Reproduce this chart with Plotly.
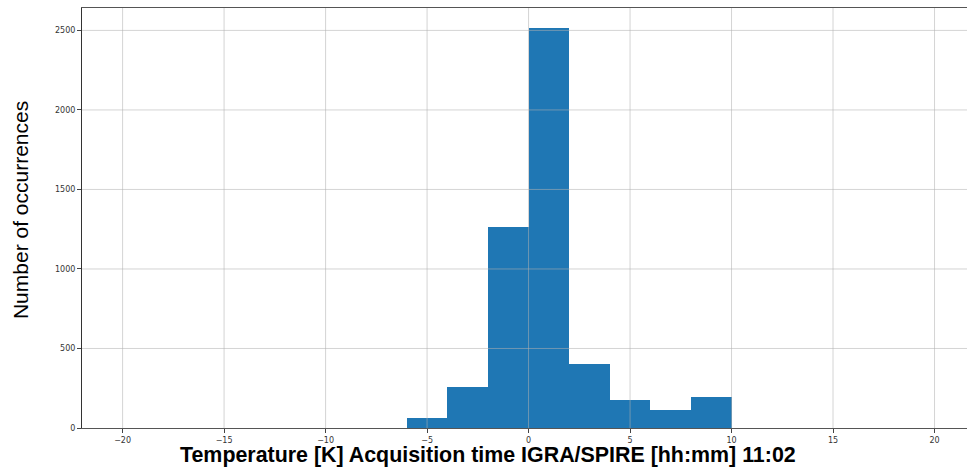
import plotly.graph_objects as go

# Histogram data (bin edges and counts)
bin_edges = [-6, -4, -2, 0, 2, 4, 6, 8, 10]
counts = [60, 257, 1264, 2514, 401, 175, 112, 195]

x_ticks = [-20, -15, -10, -5, 0, 5, 10, 15, 20]
y_ticks = [0, 500, 1000, 1500, 2000, 2500]

x_title = "Temperature [K] Acquisition time IGRA/SPIRE [hh:mm] 11:02"
y_title = "Number of occurrences"

centers = [(a + b) / 2 for a, b in zip(bin_edges[:-1], bin_edges[1:])]
widths = [b - a for a, b in zip(bin_edges[:-1], bin_edges[1:])]

fig = go.Figure()
fig.add_trace(go.Bar(
    x=centers, y=counts, width=widths,
    marker=dict(color="#1f77b4", line=dict(width=0)),
    hoverinfo="x+y",
))

grid_col = "rgba(176,176,176,0.55)"
shapes = []
for t in x_ticks:
    shapes.append(dict(type="line", xref="x", yref="paper", x0=t, x1=t, y0=0, y1=1,
                       line=dict(color=grid_col, width=1), layer="above"))
for t in y_ticks[1:]:
    shapes.append(dict(type="line", xref="paper", yref="y", x0=0, x1=1, y0=t, y1=t,
                       line=dict(color=grid_col, width=1), layer="above"))

tick_font = dict(family="DejaVu Sans", size=8, color="#333333")

fig.update_layout(
    width=967, height=468,
    margin=dict(l=82, r=0, t=8, b=40),
    paper_bgcolor="white", plot_bgcolor="white",
    showlegend=False,
    bargap=0,
    shapes=shapes,
    xaxis=dict(
        range=[-22, 21.6], tickvals=x_ticks, showgrid=False, zeroline=False,
        showline=True, linecolor="#555555", linewidth=1, mirror=True,
        ticks="outside", ticklen=4, tickcolor="#444444", tickfont=tick_font,
    ),
    yaxis=dict(
        range=[0, 2641], tickvals=y_ticks, showgrid=False, zeroline=False,
        showline=True, linecolor="#333333", linewidth=1,
        ticks="outside", ticklen=4, tickcolor="#444444", tickfont=tick_font,
    ),
    annotations=[
        dict(text=x_title, xref="paper", yref="paper", x=(488 - 82) / 885, y=-0.034,
             xanchor="center", yanchor="top", showarrow=False, borderpad=0,
             font=dict(family="Liberation Sans, Arial", size=21.4, color="black", weight="bold")),
        dict(text=y_title, xref="paper", yref="paper", x=-0.070, y=0.519,
             xanchor="center", yanchor="middle", showarrow=False, textangle=-90,
             font=dict(family="Liberation Sans, Arial", size=21, color="black")),
    ],
)

fig.write_html("out.html")
